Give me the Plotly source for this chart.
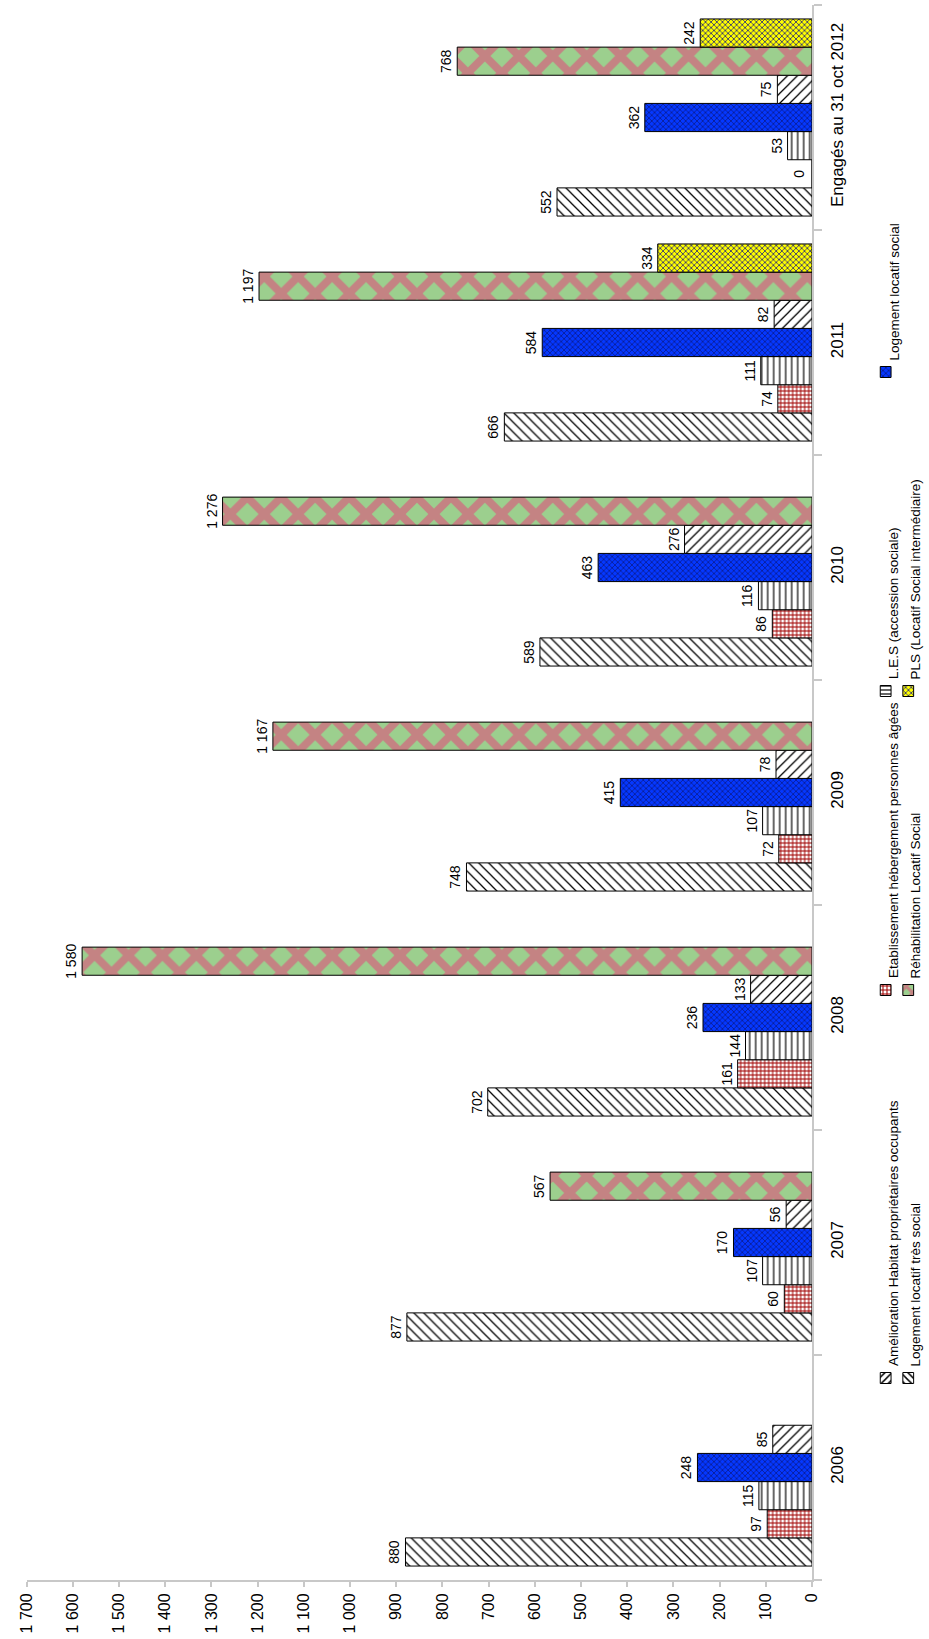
import plotly.graph_objects as go

# ---- data -------------------------------------------------------------
categories = ["2006", "2007", "2008", "2009", "2010", "2011", "Engagés au 31 oct 2012"]

logement_tres_social = [880, 877, 702, 748, 589, 666, 552]
etab_personnes_agees = [97, 60, 161, 72, 86, 74, 0]
les_accession = [115, 107, 144, 107, 116, 111, 53]
logement_social = [248, 170, 236, 415, 463, 584, 362]
amelioration_habitat = [85, 56, 133, 78, 276, 82, 75]
rehabilitation = [None, 567, 1580, 1167, 1276, 1197, 768]
pls = [None, None, None, None, None, 334, 242]

value_ticks = list(range(0, 1800, 100))


def fmt(v):
    return f"{v:,}".replace(",", " ")


value_tick_labels = [fmt(v) for v in value_ticks]

# ---- styling ------------------------------------------------------------
W, H = 929, 1639
FONT = "Liberation Sans, Arial, sans-serif"
AXIS_GREY = "#c8c8c8"
PLOT_TOP, PLOT_BOTTOM = 5, 1580          # pixel rows of the plot area
PLOT_LEFT, PLOT_RIGHT = 18, 818          # pixel columns of the plot area
BARGAP = 0.124

styles = {
    "Logement locatif très social": dict(shape="\\", fg="#000000", bg="#ffffff", size=7, sol=0.18),
    "Etablissement hébergement personnes âgées": dict(shape="+", fg="#a00000", bg="#ffffff", size=4, sol=0.45),
    "L.E.S (accession sociale)": dict(shape="|", fg="#000000", bg="#ffffff", size=6, sol=0.2),
    "Logement locatif social": dict(shape="x", fg="#0a1a8a", bg="#0538ff", size=4, sol=0.35),
    "Amélioration Habitat propriétaires occupants": dict(shape="/", fg="#000000", bg="#ffffff", size=7, sol=0.18),
    "Réhabilitation Locatif Social": dict(shape="x", fg="#c48383", bg="#9ccf8e", size=24, sol=0.55),
    "PLS (Locatif Social intermédiaire)": dict(shape="x", fg="#1a1a80", bg="#ffff00", size=4, sol=0.35),
}

# legend swatches use their own, smaller pattern tiles
swatch_styles = {
    "Logement locatif très social": dict(shape="\\", size=5, sol=0.3),
    "Etablissement hébergement personnes âgées": dict(shape="+", size=4, sol=0.45),
    "L.E.S (accession sociale)": dict(shape="-", size=4, sol=0.3),
    "Logement locatif social": dict(shape="x", size=4, sol=0.35),
    "Amélioration Habitat propriétaires occupants": dict(shape="/", size=5, sol=0.3),
    "Réhabilitation Locatif Social": dict(shape="x", size=9, sol=0.55),
    "PLS (Locatif Social intermédiaire)": dict(shape="x", size=4, sol=0.35),
}

series = [
    ("Logement locatif très social", logement_tres_social),
    ("Etablissement hébergement personnes âgées", etab_personnes_agees),
    ("L.E.S (accession sociale)", les_accession),
    ("Logement locatif social", logement_social),
    ("Amélioration Habitat propriétaires occupants", amelioration_habitat),
    ("Réhabilitation Locatif Social", rehabilitation),
    ("PLS (Locatif Social intermédiaire)", pls),
]

# geometry of one bar slot inside a category band (for labels of zero-length bars)
cat_px = (PLOT_BOTTOM - PLOT_TOP) / len(categories)
group_px = cat_px * (1 - BARGAP)
slot_px = group_px / len(series)

fig = go.Figure()
annotations = []

for idx, (name, vals) in enumerate(series):
    st = styles[name]
    fig.add_trace(go.Bar(
        y=categories,
        x=vals,
        orientation="h",
        name=name,
        marker=dict(
            color=st["bg"],
            line=dict(color="#000000", width=1),
            pattern=dict(shape=st["shape"], fgcolor=st["fg"], bgcolor=st["bg"],
                         size=st["size"], solidity=st["sol"], fillmode="replace"),
        ),
        text=[fmt(v) if v else "" for v in vals],
        textposition="outside",
        textangle=-90,
        textfont=dict(family=FONT, size=14, color="#000000"),
        constraintext="none",
        cliponaxis=False,
        hoverinfo="skip",
        xaxis="x",
        yaxis="y",
    ))
    # a zero-length bar still gets its value written just beside the axis
    for cat, v in zip(categories, vals):
        if v == 0:
            annotations.append(dict(
                x=v, y=cat, xref="x", yref="y", text=fmt(v), textangle=-90,
                showarrow=False, xanchor="right", yanchor="middle", xshift=-3,
                yshift=-group_px / 2 + slot_px * (idx + 0.5),
                font=dict(family=FONT, size=14, color="#000000"),
            ))

# ---- legend (rotated, drawn on an overlay axis in pixel units) ----------
legend_rows_swatch_x = [893, 916]
legend_rows_text_x = [901, 923]
legend_cols_y = [1378, 990, 691, 372]
legend_layout = [
    ("Amélioration Habitat propriétaires occupants", 0, 0),
    ("Etablissement hébergement personnes âgées", 0, 1),
    ("L.E.S (accession sociale)", 0, 2),
    ("Logement locatif social", 0, 3),
    ("Logement locatif très social", 1, 0),
    ("Réhabilitation Locatif Social", 1, 1),
    ("PLS (Locatif Social intermédiaire)", 1, 2),
]
SW = 11
for name, row, col in legend_layout:
    st = styles[name]
    ss = swatch_styles[name]
    cx = legend_rows_swatch_x[row]
    cy = legend_cols_y[col]
    # one small patterned square per legend entry
    fig.add_trace(go.Bar(
        x=[SW],
        base=[cx - SW / 2],
        y=[H - cy],
        width=SW,
        offset=-SW / 2,
        orientation="h",
        marker=dict(
            color=st["bg"],
            line=dict(color="#000000", width=1),
            pattern=dict(shape=ss["shape"], fgcolor=st["fg"], bgcolor=st["bg"],
                         size=ss["size"], solidity=ss["sol"], fillmode="replace"),
        ),
        hoverinfo="skip",
        showlegend=False,
        xaxis="x2",
        yaxis="y2",
    ))
    annotations.append(dict(
        text=name, textangle=-90, showarrow=False,
        xref="paper", yref="paper",
        x=legend_rows_text_x[row] / W, y=(H - cy + SW / 2 + 4) / H,
        xanchor="center", yanchor="bottom",
        font=dict(family=FONT, size=13.5, color="#000000"),
    ))

fig.update_layout(
    width=W,
    height=H,
    margin=dict(l=0, r=0, t=0, b=0),
    paper_bgcolor="#ffffff",
    plot_bgcolor="rgba(0,0,0,0)",
    showlegend=False,
    barmode="group",
    bargap=BARGAP,
    bargroupgap=0,
    annotations=annotations,
    xaxis=dict(
        domain=[PLOT_LEFT / W, PLOT_RIGHT / W],
        range=[1700, 0],
        tickvals=value_ticks,
        ticktext=value_tick_labels,
        tickangle=-90,
        tickfont=dict(family=FONT, size=16, color="#000000"),
        ticks="outside",
        ticklen=5,
        tickcolor=AXIS_GREY,
        tickwidth=2,
        showline=True,
        linecolor=AXIS_GREY,
        linewidth=2,
        showgrid=False,
        zeroline=False,
        anchor="y",
        fixedrange=True,
    ),
    yaxis=dict(
        domain=[(H - PLOT_BOTTOM) / H, (H - PLOT_TOP) / H],
        side="right",
        tickangle=-90,
        tickfont=dict(family=FONT, size=17, color="#000000"),
        ticks="outside",
        ticklen=8,
        tickcolor=AXIS_GREY,
        tickwidth=2,
        tickson="boundaries",
        ticklabelstandoff=9,
        showline=True,
        linecolor=AXIS_GREY,
        linewidth=2,
        showgrid=False,
        anchor="x",
        fixedrange=True,
    ),
    xaxis2=dict(domain=[0, 1], range=[0, W], visible=False, anchor="y2", fixedrange=True),
    yaxis2=dict(domain=[0, 1], range=[0, H], visible=False, anchor="x2", fixedrange=True),
)

fig.write_html("out.html")
